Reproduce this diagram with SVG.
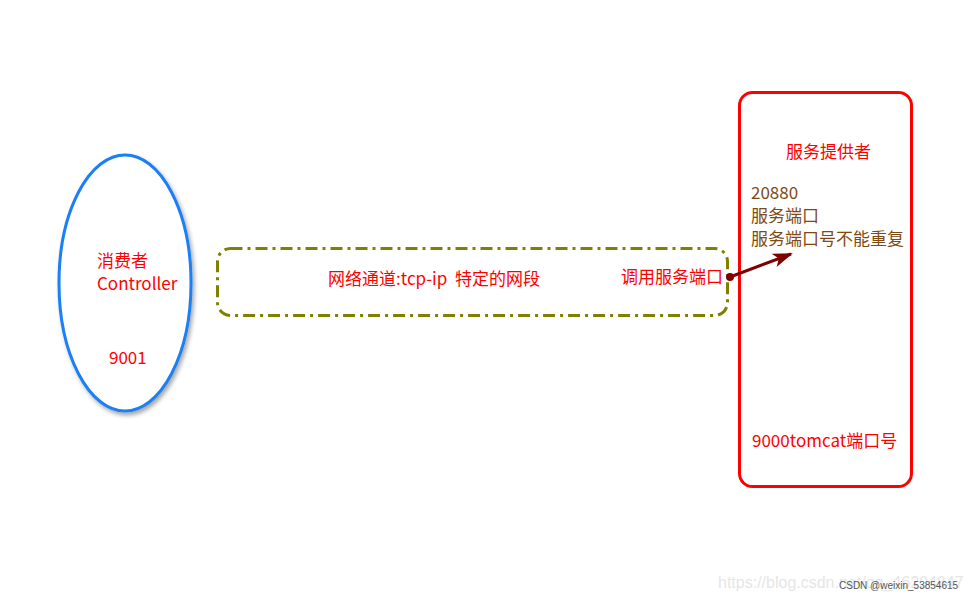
<svg xmlns="http://www.w3.org/2000/svg" width="969" height="600" viewBox="0 0 969 600">
<style>
text{font-family:"Noto Sans CJK SC","Liberation Sans",sans-serif;font-size:17px;white-space:pre}
.red{fill:#ff0000}
.brown{fill:#7f4a12}
</style>
<defs>
<filter id="sh" x="-20%" y="-20%" width="140%" height="140%">
<feDropShadow dx="2" dy="3" stdDeviation="2" flood-color="#000" flood-opacity="0.35"/>
</filter>
<marker id="ah" viewBox="0 0 20 14" refX="18" refY="7" markerWidth="20" markerHeight="14" markerUnits="userSpaceOnUse" orient="auto">
<path d="M0,0 L20,7 L0,14 L5,7 Z" fill="#7f0000"/>
</marker>
</defs>
<rect width="969" height="600" fill="#ffffff"/>
<g id="consumer">
<ellipse cx="125" cy="283" rx="66" ry="128" fill="#ffffff" stroke="#1a7ff5" stroke-width="3" filter="url(#sh)"/>
<text class="red" x="97" y="267">消费者</text>
<text class="red" x="97" y="290">Controller</text>
<text class="red" x="109" y="364">9001</text>
</g>
<g id="channel">
<rect x="217.5" y="248.5" width="510" height="67" rx="13" fill="none" stroke="#808000" stroke-width="3" stroke-dasharray="12,5,3,5"/>
<text class="red" x="328" y="285" xml:space="preserve">网络通道:tcp-ip  特定的网段</text>
<text class="red" x="723" y="283" text-anchor="end">调用服务端口</text>
</g>
<g id="provider">
<rect x="739.5" y="92.5" width="172" height="394" rx="13" fill="none" stroke="#ff0000" stroke-width="3"/>
<text class="red" x="786" y="158">服务提供者</text>
<text class="brown" x="751" y="199">20880</text>
<text class="brown" x="751" y="222">服务端口</text>
<text class="brown" x="751" y="245">服务端口号不能重复</text>
<text class="red" x="752" y="447">9000tomcat端口号</text>
</g>
<g id="connectors">
<circle cx="730" cy="277" r="4" fill="#7f0000"/>
<line x1="730" y1="277" x2="791" y2="254" stroke="#7f0000" stroke-width="3" marker-end="url(#ah)"/>
</g>
<g id="watermark">
<text x="718" y="588" style="font-family:'Liberation Sans',sans-serif;font-size:16px" fill="#e6e6e6">https://blog.csdn.net/qq_46204847</text>
<text x="839" y="589" style="font-family:'Liberation Sans',sans-serif;font-size:10px" fill="#555555">CSDN @weixin_53854615</text>
</g>
</svg>
